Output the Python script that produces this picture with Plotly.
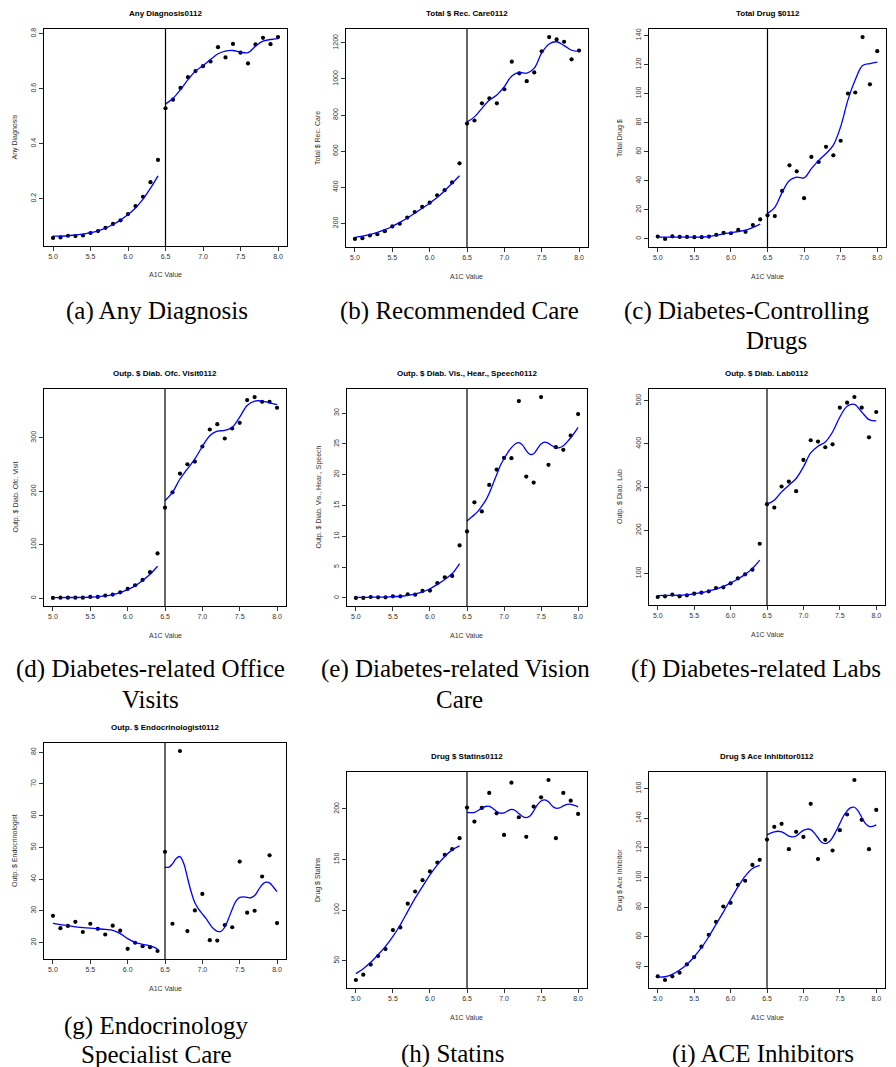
import plotly.graph_objects as go

# ---------------- data ----------------
A1C = [5.0, 5.1, 5.2, 5.3, 5.4, 5.5, 5.6, 5.7, 5.8, 5.9, 6.0, 6.1, 6.2, 6.3, 6.4,
       6.5, 6.6, 6.7, 6.8, 6.9, 7.0, 7.1, 7.2, 7.3, 7.4, 7.5, 7.6, 7.7, 7.8, 7.9, 8.0]
A1C_LEFT = [5.0, 5.1, 5.2, 5.3, 5.4, 5.5, 5.6, 5.7, 5.8, 5.9, 6.0, 6.1, 6.2, 6.3, 6.4]
A1C_RIGHT = [6.5, 6.6, 6.7, 6.8, 6.9, 7.0, 7.1, 7.2, 7.3, 7.4, 7.5, 7.6, 7.7, 7.8, 7.9, 8.0]
A1C_RIGHT_FINE = [6.5, 6.55, 6.6, 6.65, 6.7, 6.75, 6.8, 6.85, 6.9, 6.95, 7.0, 7.05, 7.1, 7.15,
                  7.2, 7.25, 7.3, 7.35, 7.4, 7.45, 7.5, 7.55, 7.6, 7.65, 7.7, 7.75, 7.8, 7.85,
                  7.9, 7.95, 8.0]
X_TICKS = [5.0, 5.5, 6.0, 6.5, 7.0, 7.5, 8.0]

# (a) Any Diagnosis
any_diag_pts = [0.057, 0.059, 0.065, 0.064, 0.066, 0.075, 0.082, 0.094, 0.108, 0.121, 0.144,
                0.173, 0.207, 0.260, 0.341, 0.529, 0.560, 0.603, 0.642, 0.664, 0.682, 0.699,
                0.751, 0.714, 0.763, 0.731, 0.692, 0.761, 0.785, 0.762, 0.788]
any_diag_fit_left = [0.064, 0.064, 0.065, 0.068, 0.071, 0.076, 0.083, 0.093, 0.106, 0.122,
                     0.142, 0.166, 0.198, 0.238, 0.283]
any_diag_fit_right = [0.544, 0.565, 0.597, 0.633, 0.664, 0.684, 0.706, 0.727, 0.737, 0.739,
                      0.733, 0.731, 0.755, 0.773, 0.779, 0.782]
any_diag_ticks = [0.2, 0.4, 0.6, 0.8]

# (b) Recommended care
rec_care_pts = [114, 118, 133, 140, 157, 183, 198, 232, 263, 291, 315, 356, 384, 427, 533,
                753, 770, 865, 893, 865, 943, 1096, 1031, 988, 1036, 1153, 1232, 1219, 1206,
                1109, 1157]
rec_care_fit_left = [122, 129, 139, 150, 165, 183, 206, 230, 256, 284, 312, 343, 381, 422, 464]
rec_care_fit_right = [762, 790, 837, 883, 911, 958, 1017, 1036, 1032, 1060, 1144, 1194, 1206,
                      1185, 1159, 1153]
rec_care_ticks = [200, 400, 600, 800, 1000, 1200]

# (c) Total drug $
drug_pts = [1.6, 0.0, 1.8, 1.4, 1.4, 1.2, 1.2, 1.6, 2.8, 4.2, 3.9, 6.2, 4.9, 9.5, 13.4,
            16.2, 15.7, 33.0, 50.6, 46.5, 28.0, 56.4, 52.9, 63.3, 57.5, 67.5, 100.0, 100.7,
            138.8, 106.3, 129.1]
drug_fit_left = [1.2, 1.2, 1.2, 1.2, 1.2, 1.2, 1.3, 1.6, 2.5, 3.5, 4.4, 5.1, 6.0, 7.9, 10.2]
drug_fit_right = [17.6, 21.7, 32.0, 40.2, 42.5, 42.0, 48.3, 54.0, 58.7, 64.5, 77.2, 95.6,
                  109.5, 119.2, 120.6, 121.5]
drug_ticks = [0, 20, 40, 60, 80, 100, 120, 140]

# (d) Office visits
office_pts = [0.6, 1.2, 1.2, 1.2, 1.2, 2.5, 2.5, 5.0, 6.9, 11.2, 17.5, 24.4, 34.4, 48.8, 83.8,
              169.4, 198.1, 233.1, 250.6, 255.6, 283.8, 315.6, 325.6, 298.8, 317.5, 328.1,
              370.6, 376.3, 367.5, 367.5, 356.3]
office_fit_left = [1.2, 1.4, 1.5, 1.5, 1.6, 1.9, 3.1, 4.4, 6.9, 10.6, 16.3, 23.1, 33.1, 45.0, 60.0]
office_fit_right = [182.5, 198.0, 223.0, 242.0, 260.6, 283.8, 304.0, 312.5, 313.8, 320.0,
                    338.8, 360.6, 368.8, 368.8, 365.6, 361.9]
office_ticks = [0, 100, 200, 300]

# (e) Vision, hearing, speech
vision_pts = [0.0, 0.0, 0.16, 0.1, 0.1, 0.27, 0.27, 0.6, 0.54, 1.14, 1.2, 2.4, 3.36, 3.58, 8.52,
              10.8, 15.52, 14.05, 18.34, 20.84, 22.73, 22.68, 31.96, 19.7, 18.72, 32.61, 21.6,
              24.47, 24.04, 26.37, 29.84]
vision_fit_left = [0.10, 0.10, 0.12, 0.13, 0.15, 0.22, 0.27, 0.43, 0.65, 0.98, 1.5, 2.2, 3.0,
                   3.96, 5.59]
vision_fit_right = [12.5, 13.0, 13.5, 14.1, 14.9, 15.8, 17.0, 18.5, 20.0, 21.5, 22.6, 23.6, 24.4,
                    25.0, 25.2, 24.8, 23.9, 23.3, 23.4, 24.2, 25.0, 25.3, 25.1, 24.7, 24.4, 24.4,
                    24.7, 25.3, 26.0, 26.8, 27.7]
vision_ticks = [0, 5, 10, 15, 20, 25, 30]

# (f) Labs
lab_pts = [45.3, 46.8, 50.7, 46.8, 49.1, 53.0, 55.3, 58.4, 66.1, 67.6, 76.9, 88.4, 97.7, 108.5,
           168.6, 260.3, 252.6, 301.2, 312.7, 290.4, 362.8, 408.3, 405.2, 392.1, 399.0, 483.8,
           495.4, 508.5, 483.8, 415.2, 473.8]
lab_fit_left = [48.4, 49.1, 49.1, 49.3, 50.7, 53.0, 55.3, 59.2, 63.8, 70.0, 77.6, 86.9, 97.7,
                111.6, 130.8]
lab_fit_right = [260.3, 269.6, 288.8, 304.2, 319.7, 346.6, 379.0, 394.4, 404.4, 427.5, 462.2,
                 486.9, 491.5, 473.8, 456.1, 453.0]
lab_ticks = [100, 200, 300, 400, 500]

# (g) Endocrinologist
endo_pts = [28.4, 24.5, 25.2, 26.5, 23.3, 25.9, 24.3, 22.5, 25.3, 23.7, 18.0, 19.9, 18.8, 18.5,
            17.3, 48.6, 25.9, 80.4, 23.6, 30.1, 35.3, 20.7, 20.6, 25.5, 24.8, 45.5, 29.4, 30.0,
            40.8, 47.5, 26.1]
endo_fit_left = [26.0, 25.6, 25.3, 24.9, 24.7, 24.5, 24.3, 24.1, 23.8, 22.8, 21.2, 20.0, 19.4,
                 18.9, 18.0]
endo_fit_right = [43.8, 43.7, 44.8, 46.5, 47.1, 45.0, 40.5, 36.0, 32.5, 30.5, 29.0, 27.5, 25.8,
                  24.3, 23.5, 23.5, 24.8, 27.5, 30.5, 33.0, 34.2, 34.4, 34.2, 34.1, 34.8, 36.5,
                  38.2, 39.0, 38.8, 37.5, 36.0]
endo_ticks = [20, 30, 40, 50, 60, 70, 80]

# (h) Statins
statin_pts = [30.9, 36.2, 46.1, 54.6, 61.5, 80.3, 82.9, 106.3, 118.4, 129.6, 138.2, 147.0, 154.6,
              160.2, 171.1, 201.3, 187.5, 201.0, 215.8, 195.7, 174.3, 226.0, 191.8, 172.4, 202.3,
              211.5, 228.6, 171.1, 215.8, 208.2, 195.1]
statin_fit_left = [37.2, 42.1, 48.4, 55.9, 64.1, 74.0, 85.5, 98.7, 111.8, 123.4, 134.9, 144.7,
                   153.0, 159.5, 163.5]
statin_fit_right = [196.7, 196.3, 196.5, 198.5, 200.8, 202.4, 202.6, 200.5, 197.5, 195.9, 196.0,
                    198.0, 199.6, 198.5, 195.5, 192.5, 191.4, 193.0, 198.0, 204.0, 207.8, 208.9,
                    207.0, 203.0, 200.7, 201.0, 203.0, 204.5, 204.6, 203.5, 202.0]
statin_ticks = [50, 100, 150, 200]

# (i) ACE inhibitors
ace_pts = [33.3, 30.8, 33.3, 35.7, 41.3, 46.3, 53.3, 61.3, 70.1, 80.4, 82.9, 95.1, 97.8, 108.5,
           111.9, 125.6, 134.2, 136.2, 119.1, 130.8, 127.4, 149.7, 112.4, 125.4, 118.2, 131.9,
           142.5, 165.8, 138.9, 119.1, 145.6]
ace_fit_left = [32.8, 33.0, 34.6, 37.5, 41.3, 46.5, 52.6, 60.0, 68.3, 76.6, 85.2, 93.5, 100.9,
                106.1, 108.1]
ace_fit_right = [128.8, 130.0, 130.8, 131.2, 130.8, 129.5, 127.9, 127.4, 128.0, 130.0, 131.8,
                 132.7, 132.3, 130.0, 126.8, 123.8, 122.9, 124.0, 127.0, 131.5, 136.5, 141.5,
                 145.0, 147.2, 147.4, 145.0, 140.5, 136.5, 134.5, 134.5, 135.5]
ace_ticks = [40, 60, 80, 100, 120, 140, 160]

titles = ["Any Diagnosis0112", "Total $ Rec. Care0112", "Total Drug $0112",
          "Outp. $ Diab. Ofc. Visit0112", "Outp. $ Diab. Vis., Hear., Speech0112",
          "Outp. $ Diab. Lab0112", "Outp. $ Endocrinologist0112", "Drug $ Statins0112",
          "Drug $ Ace Inhibitor0112"]
ylabels = ["Any Diagnosis", "Total $ Rec. Care", "Total Drug $", "Outp. $ Diab. Ofc. Visit",
           "Outp. $ Diab. Vis., Hear., Speech", "Outp. $ Diab. Lab", "Outp. $ Endocrinologist",
           "Drug $ Statins", "Drug $ Ace Inhibitor"]
xlabel = "A1C Value"

# ---------------- layout (pixels) ----------------
W, H = 896, 1067
boxes = [  # left, top, right, bottom
    (44, 29, 287, 246), (346, 29, 588, 247), (649, 29, 886, 247),
    (44, 389, 286, 606), (347, 389, 587, 606), (649, 389, 885, 605),
    (44, 743, 286, 959), (347, 772, 587, 988), (649, 772, 885, 988),
]
captions = [  # text, x center, y center
    ("(a) Any Diagnosis", 157, 311), ("(b) Recommended Care", 460, 311),
    ("(c) Diabetes-Controlling", 747, 311), ("Drugs", 776, 340),
    ("(d) Diabetes-related Office", 150, 669), ("Visits", 150, 699),
    ("(e) Diabetes-related Vision", 455, 669), ("Care", 460, 699),
    ("(f) Diabetes-related Labs", 756, 669),
    ("(g) Endocrinology", 156, 1026), ("Specialist Care", 156, 1054),
    ("(h) Statins", 453, 1054), ("(i) ACE Inhibitors", 763, 1054),
]

panels = [
    (any_diag_pts, A1C_LEFT, any_diag_fit_left, A1C_RIGHT, any_diag_fit_right, any_diag_ticks),
    (rec_care_pts, A1C_LEFT, rec_care_fit_left, A1C_RIGHT, rec_care_fit_right, rec_care_ticks),
    (drug_pts, A1C_LEFT, drug_fit_left, A1C_RIGHT, drug_fit_right, drug_ticks),
    (office_pts, A1C_LEFT, office_fit_left, A1C_RIGHT, office_fit_right, office_ticks),
    (vision_pts, A1C_LEFT, vision_fit_left, A1C_RIGHT_FINE, vision_fit_right, vision_ticks),
    (lab_pts, A1C_LEFT, lab_fit_left, A1C_RIGHT, lab_fit_right, lab_ticks),
    (endo_pts, A1C_LEFT, endo_fit_left, A1C_RIGHT_FINE, endo_fit_right, endo_ticks),
    (statin_pts, A1C_LEFT, statin_fit_left, A1C_RIGHT_FINE, statin_fit_right, statin_ticks),
    (ace_pts, A1C_LEFT, ace_fit_left, A1C_RIGHT_FINE, ace_fit_right, ace_ticks),
]

SANS = "Liberation Sans, Arial, Helvetica, sans-serif"
SERIF = "Liberation Serif, Times New Roman, serif"

def px(x):
    return x / W

def py(y):
    return 1 - y / H

fig = go.Figure()
annotations = []
shapes = []
layout_axes = {}

for i, (pts, xl, fl, xr, fr, yt) in enumerate(panels):
    n = i + 1
    xa = "x" if n == 1 else f"x{n}"
    ya = "y" if n == 1 else f"y{n}"
    l, t, r, b = boxes[i]

    fig.add_trace(go.Scatter(x=A1C, y=pts, mode="markers", xaxis=xa, yaxis=ya,
                             marker=dict(color="black", size=4.2), showlegend=False,
                             hoverinfo="skip"))
    fig.add_trace(go.Scatter(x=xl, y=fl, mode="lines", xaxis=xa, yaxis=ya,
                             line=dict(color="#0000FF", width=1.3, shape="spline"),
                             showlegend=False, hoverinfo="skip"))
    fig.add_trace(go.Scatter(x=xr, y=fr, mode="lines", xaxis=xa, yaxis=ya,
                             line=dict(color="#0000FF", width=1.3, shape="spline"),
                             showlegend=False, hoverinfo="skip"))

    lo, hi = min(pts), max(pts)
    pad = 0.04 * (hi - lo)
    xlo, xhi = min(A1C), max(A1C)
    xpad = 0.04 * (xhi - xlo)

    common = dict(showgrid=False, zeroline=False, showline=True, mirror=True,
                  linecolor="black", linewidth=1, ticks="outside", ticklen=4,
                  tickwidth=1, tickcolor="#333", tickfont=dict(family=SANS, size=7, color="#333"))
    kx = "xaxis" if n == 1 else f"xaxis{n}"
    ky = "yaxis" if n == 1 else f"yaxis{n}"
    layout_axes[kx] = dict(domain=[px(l), px(r)], anchor=ya, range=[xlo - xpad, xhi + xpad],
                           tickvals=X_TICKS, ticktext=[f"{v:.1f}" for v in X_TICKS], **common)
    layout_axes[ky] = dict(domain=[py(b), py(t)], anchor=xa, range=[lo - pad, hi + pad],
                           tickvals=yt, tickangle=-90, **common)

    shapes.append(dict(type="line", xref=xa, yref=f"{ya} domain", x0=6.5, x1=6.5, y0=0, y1=1,
                       line=dict(color="black", width=1.2)))

    cx = (l + r) / 2
    annotations.append(dict(text=f"<b>{titles[i]}</b>", x=px(cx), y=py(t - 16), xref="paper",
                            yref="paper", showarrow=False, xanchor="center", yanchor="middle",
                            font=dict(family=SANS, size=8, color="black")))
    annotations.append(dict(text=xlabel, x=px(cx), y=py(b + 29), xref="paper", yref="paper",
                            showarrow=False, xanchor="center", yanchor="middle",
                            font=dict(family=SANS, size=7, color="#333")))
    annotations.append(dict(text=ylabels[i], x=px(l - 29), y=py((t + b) / 2), xref="paper",
                            yref="paper", showarrow=False, xanchor="center", yanchor="middle",
                            textangle=-90, font=dict(family=SANS, size=7, color="#333")))

for text, cx, cy in captions:
    annotations.append(dict(text=text, x=px(cx), y=py(cy), xref="paper", yref="paper",
                            showarrow=False, xanchor="center", yanchor="middle",
                            font=dict(family=SERIF, size=25, color="black")))

fig.update_layout(width=W, height=H, autosize=False, margin=dict(l=0, r=0, t=0, b=0),
                  paper_bgcolor="white", plot_bgcolor="white", annotations=annotations,
                  shapes=shapes, **layout_axes)

fig.write_html("out.html")
